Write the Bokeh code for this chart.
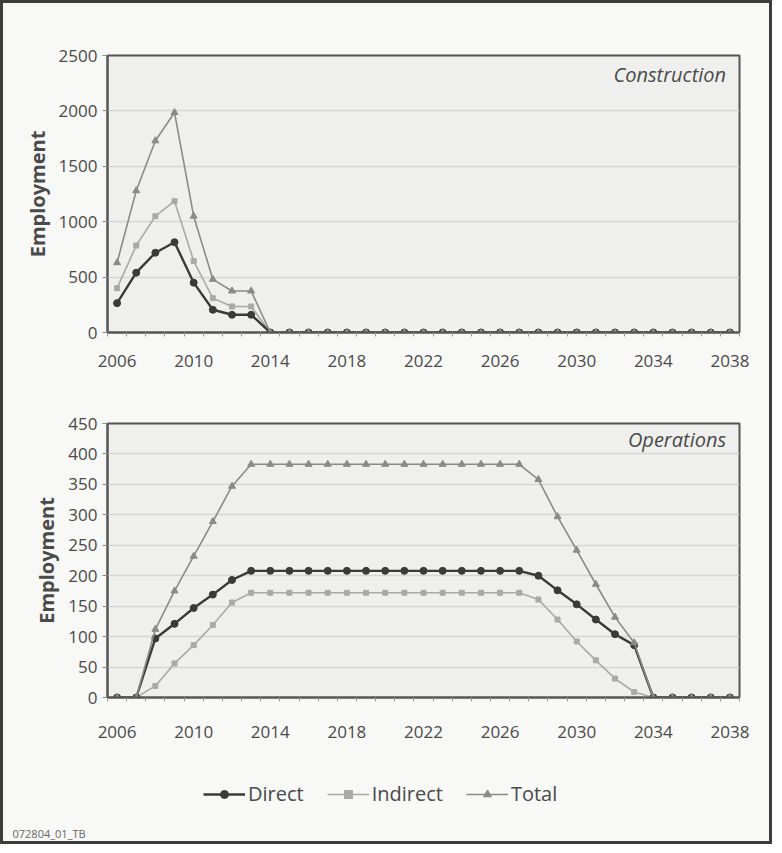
from bokeh.plotting import figure
from bokeh.layouts import column
from bokeh.models import (ColumnDataSource, FixedTicker, Label, Legend, LegendItem,
                          Range1d, Title)
from bokeh.embed import file_html
from bokeh.resources import INLINE

# ---------------- data ----------------
years = [2006, 2007, 2008, 2009, 2010, 2011, 2012, 2013, 2014, 2015, 2016,
         2017, 2018, 2019, 2020, 2021, 2022, 2023, 2024, 2025, 2026, 2027,
         2028, 2029, 2030, 2031, 2032, 2033, 2034, 2035, 2036, 2037, 2038]

con_direct = [265, 540, 720, 815, 450, 205, 160, 160, 0, 0, 0,
              0, 0, 0, 0, 0, 0, 0, 0, 0, 0, 0,
              0, 0, 0, 0, 0, 0, 0, 0, 0, 0, 0]
con_indirect = [400, 785, 1050, 1185, 645, 310, 235, 235, 0, 0, 0,
                0, 0, 0, 0, 0, 0, 0, 0, 0, 0, 0,
                0, 0, 0, 0, 0, 0, 0, 0, 0, 0, 0]
con_total = [630, 1280, 1730, 1985, 1050, 480, 375, 375, 0, 0, 0,
             0, 0, 0, 0, 0, 0, 0, 0, 0, 0, 0,
             0, 0, 0, 0, 0, 0, 0, 0, 0, 0, 0]

ops_direct = [0, 0, 97, 121, 147, 169, 193, 208, 208, 208, 208,
              208, 208, 208, 208, 208, 208, 208, 208, 208, 208, 208,
              200, 176, 153, 128, 104, 86, 0, 0, 0, 0, 0]
ops_indirect = [0, 0, 19, 56, 86, 119, 156, 172, 172, 172, 172,
                172, 172, 172, 172, 172, 172, 172, 172, 172, 172, 172,
                161, 128, 92, 61, 31, 9, 0, 0, 0, 0, 0]
ops_total = [0, 0, 112, 175, 232, 289, 347, 383, 383, 383, 383,
             383, 383, 383, 383, 383, 383, 383, 383, 383, 383, 383,
             358, 297, 242, 186, 132, 90, 0, 0, 0, 0, 0]

x_tick_labels = [2006, 2010, 2014, 2018, 2022, 2026, 2030, 2034, 2038]
con_y_ticks = [0, 500, 1000, 1500, 2000, 2500]
ops_y_ticks = [0, 50, 100, 150, 200, 250, 300, 350, 400, 450]
series_names = ["Direct", "Indirect", "Total"]
chart_titles = ["Construction", "Operations"]
footer_code = "072804_01_TB"

# ---------------- style ----------------
FONT = "Open Sans"
TXT = "#4a4a4a"
BG = "#f8f8f6"
PLOT_BG = "#efefed"
GRID = "#d6d6d4"
C_DIRECT = "#3a3a3a"
C_INDIRECT = "#a9a9a9"
C_TOTAL = "#8a8a8a"
W = 766


def style_axes(p, yticks, label_standoff_x):
    lo = years[0] - 0.5
    p.xaxis.ticker = FixedTicker(ticks=x_tick_labels,
                                 minor_ticks=[lo + i for i in range(len(years) + 1)])
    p.yaxis.ticker = FixedTicker(ticks=yticks)
    p.xaxis.major_tick_out = 0
    p.xaxis.major_tick_in = 0
    p.xaxis.minor_tick_out = 4
    p.xaxis.minor_tick_in = 0
    p.xaxis.major_label_standoff = label_standoff_x
    p.yaxis.major_tick_out = 5
    p.yaxis.major_tick_in = 0
    p.yaxis.major_label_standoff = 5
    for ax in (p.xaxis, p.yaxis):
        ax.axis_line_color = "#555555"
        ax.axis_line_width = 2
        ax.major_tick_line_color = "#888888"
        ax.major_label_text_font = FONT
        ax.major_label_text_font_size = "17px"
        ax.major_label_text_color = TXT
    p.xaxis.minor_tick_line_color = "#999999"
    p.yaxis.minor_tick_line_color = None
    p.yaxis.axis_label = "Employment"
    p.yaxis.axis_label_text_font = FONT
    p.yaxis.axis_label_text_font_style = "bold"
    p.yaxis.axis_label_text_font_size = "20px"
    p.yaxis.axis_label_text_color = TXT
    p.yaxis.axis_label_standoff = 5
    p.xgrid.grid_line_color = None
    p.ygrid.grid_line_color = GRID
    p.ygrid.grid_line_width = 1.5
    p.outline_line_color = "#555555"
    p.outline_line_width = 2
    p.background_fill_color = PLOT_BG
    p.border_fill_color = BG


def add_series(p, direct, indirect, total):
    src = ColumnDataSource(dict(x=years, d=direct, i=indirect, t=total))
    li = p.line("x", "i", source=src, line_color=C_INDIRECT, line_width=1.6)
    mi = p.scatter("x", "i", source=src, marker="square", size=5,
                   fill_color=C_INDIRECT, line_color=C_INDIRECT)
    ld = p.line("x", "d", source=src, line_color=C_DIRECT, line_width=2.4)
    md = p.scatter("x", "d", source=src, marker="circle", size=7,
                   fill_color=C_DIRECT, line_color=C_DIRECT)
    lt = p.line("x", "t", source=src, line_color=C_TOTAL, line_width=1.6)
    mt = p.scatter("x", "t", source=src, marker="triangle", size=7,
                   fill_color=C_TOTAL, line_color=C_TOTAL)
    return [(ld, md), (li, mi), (lt, mt)]


# ---------------- construction ----------------
p1 = figure(width=W, height=392, output_backend="svg", toolbar_location=None,
            x_range=Range1d(years[0] - 0.5, years[-1] + 0.5),
            y_range=Range1d(0, 2500),
            min_border_left=104, min_border_right=30,
            min_border_top=52, min_border_bottom=63)
style_axes(p1, con_y_ticks, 18)
add_series(p1, con_direct, con_indirect, con_total)
p1.add_layout(Label(x=years[-1] - 0.2, y=2330, text=chart_titles[0],
                    text_align="right", text_baseline="middle",
                    text_font=FONT, text_font_style="italic",
                    text_font_size="20px", text_color=TXT))

# ---------------- operations ----------------
p2 = figure(width=W, height=370, output_backend="svg", toolbar_location=None,
            x_range=Range1d(years[0] - 0.5, years[-1] + 0.5),
            y_range=Range1d(0, 450),
            min_border_left=104, min_border_right=30,
            min_border_top=28, min_border_bottom=68)
style_axes(p2, ops_y_ticks, 24)
add_series(p2, ops_direct, ops_indirect, ops_total)
p2.add_layout(Label(x=years[-1] - 0.2, y=423, text=chart_titles[1],
                    text_align="right", text_baseline="middle",
                    text_font=FONT, text_font_style="italic",
                    text_font_size="20px", text_color=TXT))

# ---------------- legend strip (series kept below its visible y window) ----------------
p3 = figure(width=W, height=76, output_backend="svg", toolbar_location=None,
            x_range=p2.x_range, y_range=Range1d(-2, -1),
            min_border_left=104, min_border_right=30,
            min_border_top=0, min_border_bottom=0)
p3.axis.visible = False
p3.grid.visible = False
p3.outline_line_color = None
p3.background_fill_color = BG
p3.border_fill_color = BG
rs = add_series(p3, ops_direct, ops_indirect, ops_total)
legend = Legend(items=[LegendItem(label=series_names[k], renderers=list(rs[k]))
                       for k in range(3)],
                orientation="horizontal", location=(96, 16),
                label_text_font=FONT, label_text_font_size="20px",
                label_text_color=TXT, glyph_width=42, spacing=23,
                label_standoff=3, border_line_color=None,
                background_fill_alpha=0, margin=0, padding=10)
p3.add_layout(legend)
p3.add_layout(Title(text=footer_code, align="left", offset=-95, standoff=1,
                    text_font=FONT, text_font_size="11px",
                    text_font_style="normal", text_color="#666666"), "below")

layout = column(p1, p2, p3, spacing=0,
                styles={"border": "3px solid #3c3c3c", "background-color": BG})

open("out.html", "w").write(file_html(layout, INLINE))
